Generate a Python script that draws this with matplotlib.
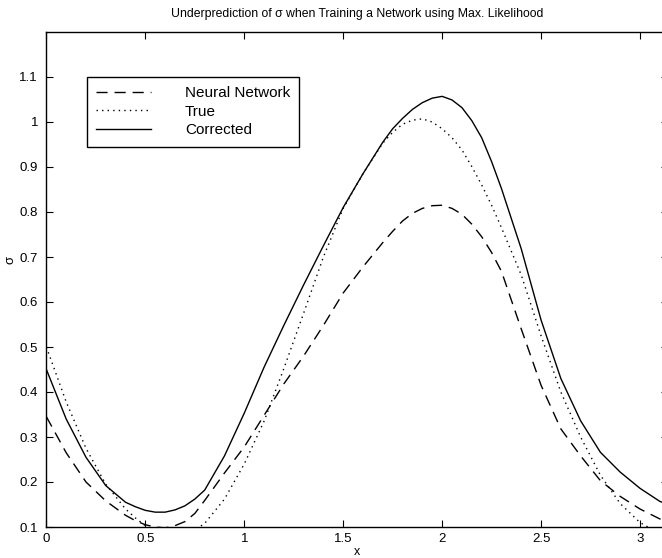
import numpy as np
import matplotlib
matplotlib.use("Agg")
import matplotlib.pyplot as plt

plt.rcParams['font.family'] = ['Liberation Sans', 'DejaVu Sans']

x = [0.0, 0.1, 0.2, 0.3, 0.4, 0.45, 0.5, 0.55, 0.6, 0.65, 0.7, 0.75, 0.8, 0.9, 1.0,
     1.1, 1.2, 1.3, 1.4, 1.5, 1.6, 1.7, 1.75, 1.8, 1.85, 1.9, 1.95, 2.0, 2.05, 2.1,
     2.15, 2.2, 2.25, 2.3, 2.4, 2.5, 2.6, 2.7, 2.8, 2.9, 3.0, 3.1, 3.1416]

neural_network = [0.345, 0.265, 0.200, 0.158, 0.126, 0.114, 0.105, 0.100, 0.098, 0.103,
                  0.112, 0.130, 0.159, 0.220, 0.278, 0.348, 0.418, 0.480, 0.548, 0.620,
                  0.678, 0.732, 0.757, 0.780, 0.797, 0.808, 0.814, 0.815, 0.808, 0.795,
                  0.773, 0.745, 0.710, 0.668, 0.540, 0.415, 0.318, 0.258, 0.203, 0.168,
                  0.140, 0.118, 0.112]

true_sigma = [0.500, 0.378, 0.275, 0.195, 0.140, 0.120, 0.103, 0.092, 0.085, 0.083,
              0.085, 0.093, 0.108, 0.162, 0.240, 0.335, 0.452, 0.575, 0.700, 0.808,
              0.885, 0.953, 0.977, 0.995, 1.004, 1.007, 1.000, 0.985, 0.965, 0.938,
              0.901, 0.860, 0.815, 0.765, 0.660, 0.525, 0.400, 0.300, 0.215, 0.152,
              0.110, 0.085, 0.080]

corrected = [0.450, 0.340, 0.255, 0.192, 0.155, 0.145, 0.137, 0.133, 0.133, 0.138,
             0.147, 0.162, 0.182, 0.258, 0.353, 0.455, 0.548, 0.638, 0.725, 0.810,
             0.885, 0.955, 0.985, 1.008, 1.028, 1.043, 1.053, 1.057, 1.049, 1.032,
             1.003, 0.965, 0.912, 0.852, 0.718, 0.560, 0.430, 0.336, 0.266, 0.222,
             0.186, 0.157, 0.150]

xticks = [0, 0.5, 1, 1.5, 2, 2.5, 3]
xticklabels = ['0', '0.5', '1', '1.5', '2', '2.5', '3']
yticks = [0.1, 0.2, 0.3, 0.4, 0.5, 0.6, 0.7, 0.8, 0.9, 1.0, 1.1]
yticklabels = ['0.1', '0.2', '0.3', '0.4', '0.5', '0.6', '0.7', '0.8', '0.9', '1', '1.1']

W, H = 662, 558
fig = plt.figure(figsize=(W / 100, H / 100), dpi=100)
left, right, top, bottom = 46.4, 668.0, 32.0, 527.0
ax = fig.add_axes([left / W, 1 - bottom / H, (right - left) / W, (bottom - top) / H])

lw = 1.0
ax.plot(x, neural_network, color='black', lw=lw, linestyle=(0, (8, 5)), label='Neural Network')
ax.plot(x, true_sigma, color='black', lw=lw, linestyle=(0, (1, 3)), label='True')
ax.plot(x, corrected, color='black', lw=lw, linestyle='-', label='Corrected')

ax.set_xlim(0, np.pi)
ax.set_ylim(0.1, 1.2)
ax.set_xticks(xticks)
ax.set_xticklabels(xticklabels)
ax.set_yticks(yticks)
ax.set_yticklabels(yticklabels)
ax.tick_params(direction='in', length=5, width=0.8, top=True, right=True, labelsize=9.5)
ax.tick_params(axis='y', pad=6)
ax.tick_params(axis='x', pad=4)
for s in ax.spines.values():
    s.set_linewidth(1.0)

ax.set_title('Underprediction of σ when Training a Network using Max. Likelihood',
             fontsize=8.8, pad=11)
ax.set_xlabel('x', fontsize=9, labelpad=1)
ax.set_ylabel('σ', fontsize=9.5, labelpad=2, y=0.54)

leg = ax.legend(loc='upper left', bbox_to_anchor=((87 - left) / (right - left), (bottom - 77) / (bottom - top)),
                borderaxespad=0, fancybox=False, framealpha=1, edgecolor='black',
                fontsize=11, handlelength=3.6, handletextpad=2.2, labelspacing=0.3,
                borderpad=0.6)
leg.get_frame().set_linewidth(1.0)

fig.savefig('out.png', dpi=100)
